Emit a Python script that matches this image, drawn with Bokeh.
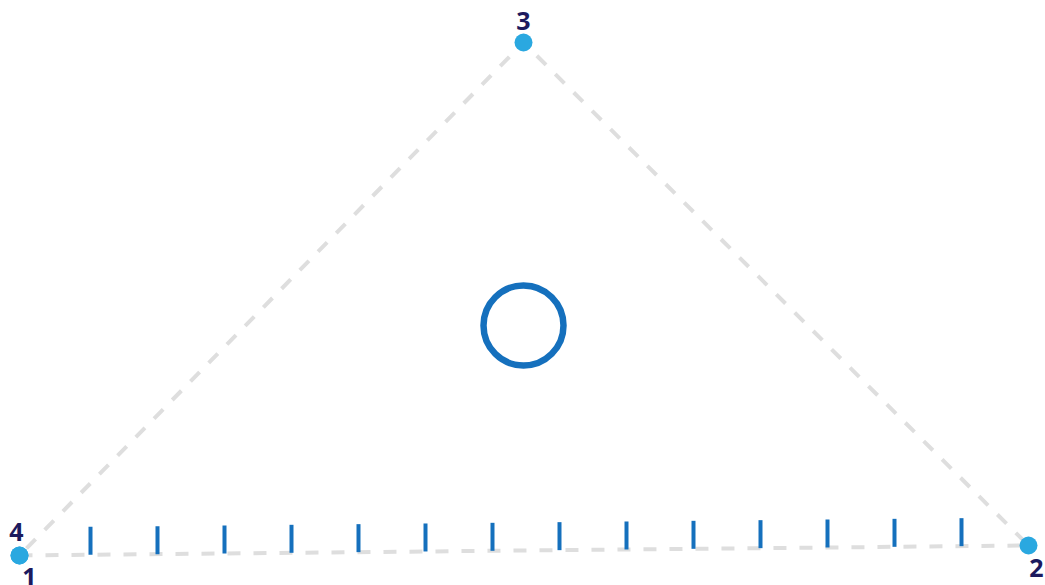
from bokeh.plotting import figure
from bokeh.models import Range1d, ColumnDataSource
from bokeh.core.properties import value
from bokeh.embed import file_html
from bokeh.resources import INLINE

# ---- data ----
point_labels = ["1", "2", "3", "4"]
point_x = [0, 1009, 504, 0]
point_y = [0, 10, 513, 0]
tick_x = [71, 138, 205, 272, 339, 406, 473, 540, 607, 674, 741, 808, 875, 942]
tick_len = 28
center_x = [504]
center_y = [230]
center_r = [40]

# ---- style ----
label_dx = [10, 8, 0, -3]
label_dy = [21, 22, -22, -24]

p = figure(width=1045, height=585, output_backend="svg", toolbar_location=None,
           x_range=Range1d(-19, 1026), y_range=Range1d(-30, 555),
           min_border=0, tools="")
p.axis.visible = False
p.grid.visible = False
p.outline_line_color = None
p.background_fill_color = "white"
p.border_fill_color = "white"

# dashed triangle
p.line(point_x, point_y, line_color="#dedede", line_width=4, line_dash="13 13")

# ticks along edge 1-2
slope = (point_y[1] - point_y[0]) / (point_x[1] - point_x[0])
tb = [point_y[0] + slope * (t - point_x[0]) for t in tick_x]
p.segment(x0=tick_x, y0=tb, x1=tick_x, y1=[b + tick_len for b in tb],
          line_color="#1570bd", line_width=4)

# center ring
p.circle(x=center_x, y=center_y, radius=center_r, fill_color=None,
         line_color="#1570bd", line_width=6.5)

# vertices
p.scatter(point_x, point_y, size=18, fill_color="#2aa8e0", line_color=None)

src = ColumnDataSource(dict(x=point_x, y=point_y, t=point_labels,
                            dx=label_dx, dy=label_dy))
p.text(x="x", y="y", text="t", x_offset="dx", y_offset="dy", source=src,
       text_align="center", text_baseline="middle",
       text_font=value("Open Sans"), text_font_style="bold",
       text_font_size="25px", text_color="#1c1a5e")

open("out.html", "w").write(file_html(p, INLINE))
